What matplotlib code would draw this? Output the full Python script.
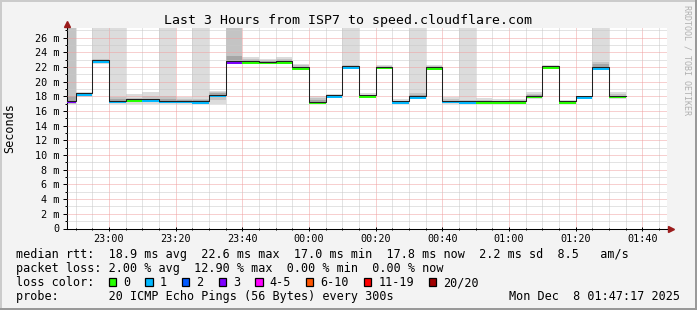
import numpy as np
import pandas as pd
import matplotlib
matplotlib.use("Agg")
import matplotlib.pyplot as plt
import matplotlib.dates as mdates
from matplotlib.patches import Rectangle
from matplotlib.lines import Line2D
from matplotlib.transforms import Affine2D

# ---------------- data ----------------
TITLE = "Last 3 Hours from ISP7 to speed.cloudflare.com"
TOP = 40.0  # pings above the visible range

step_start = pd.date_range("2025-12-07 22:45", periods=34, freq="5min")
median_ms = [17.2, 18.2, 22.68, 17.2, 17.4, 17.4, 17.2, 17.2, 17.1, 18.0,
             22.55, 22.55, 22.5, 22.6, 21.73, 17.06, 17.92, 21.87, 17.95, 21.82,
             17.15, 17.78, 21.73, 17.17, 17.15, 17.15, 17.15, 17.1, 17.87, 21.89,
             17.12, 17.78, 21.78, 17.87]
loss_pings = [3, 1, 1, 1, 0, 1, 1, 1, 1, 1,
              3, 0, 0, 0, 0, 0, 1, 1, 0, 0,
              1, 1, 0, 1, 1, 0, 0, 0, 0, 0,
              0, 1, 1, 0]
smoke_lo = [16.95, 17.9, 22.4, 17.0, 17.0, 17.0, 17.0, 17.0, 16.9, 16.9,
            22.4, 22.5, 22.4, 22.4, 21.6, 16.9, 17.8, 21.7, 17.8, 21.7,
            17.0, 17.6, 21.6, 17.0, 16.9, 16.9, 16.9, 17.0, 17.7, 21.8,
            17.0, 17.7, 21.7, 17.6]
smoke_hi = [TOP, 18.6, TOP, TOP, 18.3, 18.6, TOP, 17.9, TOP, 18.7,
            TOP, 23.3, 23.1, 23.3, 22.4, 18.1, 18.3, TOP, 18.4, 22.3,
            17.6, TOP, 22.3, 17.9, TOP, 17.8, 17.6, 17.7, 18.6, 22.2,
            17.5, 18.1, TOP, 18.6]
smoke_mid_lo = [16.95, 18.0, 22.5, 17.1, 17.2, 17.2, 17.1, 17.1, 17.0, 17.5,
                22.5, 22.6, 22.5, 22.6, 21.8, 17.1, 17.9, 21.8, 17.9, 21.8,
                17.1, 17.8, 21.7, 17.1, 17.0, 17.0, 17.0, 17.1, 17.9, 21.9,
                17.1, 17.8, 21.8, 17.8]
smoke_mid_hi = [TOP, 18.4, 23.1, 17.9, 17.8, 18.0, 18.0, 17.7, 17.7, 18.6,
                TOP, 23.1, 22.9, 23.1, 22.2, 17.8, 18.2, 22.2, 18.2, 22.1,
                17.4, 18.4, 22.1, 17.6, 17.5, 17.5, 17.4, 17.5, 18.3, 22.1,
                17.4, 18.0, 22.7, 18.3]
smoke_in_lo = [17.2, 18.1, 22.6, 17.2, 17.3, 17.3, 17.2, 17.2, 17.1, 17.9,
               22.6, 22.6, 22.5, 22.6, 21.8, 17.1, 17.9, 21.9, 17.95, 21.8,
               17.15, 17.8, 21.75, 17.15, 17.1, 17.1, 17.1, 17.1, 17.9, 21.9,
               17.1, 17.8, 21.8, 17.85]
smoke_in_hi = [18.0, 18.3, 23.0, 17.6, 17.6, 17.7, 17.6, 17.5, 17.5, 18.5,
               23.5, 22.9, 22.8, 22.9, 22.0, 17.5, 18.1, 22.1, 18.1, 22.0,
               17.3, 18.2, 22.0, 17.4, 17.4, 17.35, 17.3, 17.35, 18.2, 22.05,
               17.3, 17.95, 22.4, 18.1]

loss_labels = ["0", "1", "2", "3", "4-5", "6-10", "11-19", "20/20"]
loss_upper = [0, 1, 2, 3, 5, 10, 19, 20]
loss_colors = ["#26ff00", "#00b8ff", "#0059ff", "#7e00ff",
               "#ff00ff", "#ff5500", "#ff0000", "#a10000"]

y_ticks = [0, 2, 4, 6, 8, 10, 12, 14, 16, 18, 20, 22, 24, 26]
x_tick_times = pd.date_range("2025-12-07 23:00", periods=9, freq="20min")
x_tick_labels = ["23:00", "23:20", "23:40", "00:00", "00:20",
                 "00:40", "01:00", "01:20", "01:40"]
t_begin = pd.Timestamp("2025-12-07 22:47:17")
t_end = pd.Timestamp("2025-12-08 01:47:17")

legend_rows = [
    "median rtt:  18.9 ms avg  22.6 ms max  17.0 ms min  17.8 ms now  2.2 ms sd  8.5   am/s",
    "packet loss: 2.00 % avg  12.90 % max  0.00 % min  0.00 % now",
    "loss color:",
    "probe:       20 ICMP Echo Pings (56 Bytes) every 300s",
]
date_text = "Mon Dec  8 01:47:17 2025"

# ---------------- figure ----------------
W, H = 697, 310
MONO = "DejaVu Sans Mono"
fig = plt.figure(figsize=(W / 100, H / 100), dpi=100, facecolor="#f3f3f3")
PX = Affine2D().scale(1 / W, -1 / H).translate(0, 1) + fig.transFigure

L, R, T, B = 66.5, 666.5, 28.0, 228.5
ax = fig.add_axes([L / W, 1 - B / H, (R - L) / W, (B - T) / H])
ax.set_facecolor("white")

edges = mdates.date2num(list(step_start) + [step_start[-1] + pd.Timedelta("5min")])


def ext(v):
    return list(v) + [v[-1]]


for lo, hi, col in [(smoke_lo, smoke_hi, "#dcdcdc"),
                    (smoke_mid_lo, smoke_mid_hi, "#c4c4c4"),
                    (smoke_in_lo, smoke_in_hi, "#a6a6a6")]:
    ax.fill_between(edges, ext(lo), ext(hi), step="post", color=col, lw=0, zorder=1)


def loss_color(n):
    for up, c in zip(loss_upper, loss_colors):
        if n <= up:
            return c
    return loss_colors[-1]


med = np.array(median_ms)
for i in range(len(med)):
    ax.fill_between(edges[i:i + 2], [med[i] - 0.14] * 2, [med[i] + 0.14] * 2,
                    color=loss_color(loss_pings[i]), lw=0, zorder=3)
ax.step(edges, ext(list(med + 0.2)), where="post", color="#202020", lw=0.75, zorder=3.5)

ax.set_xlim(mdates.date2num(t_begin), mdates.date2num(t_end))
ax.set_ylim(0, 27.3)

# grid
ax.set_axisbelow(False)
ax.set_yticks(y_ticks)
ax.set_yticks([v + 1 for v in y_ticks], minor=True)
ax.set_yticklabels([f"{v} m" if v else "0" for v in y_ticks], family=MONO, fontsize=7.3)
xt = mdates.date2num(x_tick_times)
ax.set_xticks(xt)
ax.set_xticklabels(x_tick_labels, family=MONO, fontsize=7.3)
five = mdates.date2num(pd.date_range("2025-12-07 22:50", "2025-12-08 01:45", freq="5min"))
ax.set_xticks([v for v in five if np.min(np.abs(xt - v)) > 1e-6], minor=True)
dot = (0, (1, 1))
ax.grid(which="major", color="#f0a0a0", ls=dot, lw=0.72)
ax.grid(which="minor", color="#c8c8c8", ls=dot, lw=0.72)
ax.tick_params(axis="y", which="major", direction="out", length=3, width=0.72, pad=1.8)
ax.tick_params(axis="y", which="minor", direction="out", length=1.5, width=0.72)
ax.tick_params(axis="x", which="major", direction="inout", length=3, width=0.72, pad=2.5)
ax.tick_params(axis="x", which="minor", direction="inout", length=2, width=0.72)

for s in ["top", "right"]:
    ax.spines[s].set_visible(False)
for s in ["left", "bottom"]:
    ax.spines[s].set_linewidth(0.75)
    ax.spines[s].set_color("black")

# axis arrows
arrow_c = "#9b1c1c"
fig.add_artist(Line2D([R, R + 2], [B, B], transform=PX, color="black", lw=0.75))
fig.add_artist(Line2D([R + 4.5], [B], transform=PX, marker=">", ms=4.5, color=arrow_c, mec=arrow_c))
fig.add_artist(Line2D([L, L], [T, T - 2], transform=PX, color="black", lw=0.75))
fig.add_artist(Line2D([L], [T - 4], transform=PX, marker="^", ms=4.5, color=arrow_c, mec=arrow_c))

# texts
fig.text(348.5, 24, TITLE, transform=PX, family=MONO, fontsize=9.5, ha="center", va="baseline")
fig.text(10, 128, "Seconds", transform=PX, family=MONO, fontsize=8.5, rotation=90,
         ha="center", va="center")
fig.text(687, 60, "RRDTOOL / TOBI OETIKER", transform=PX, family=MONO, fontsize=6,
         rotation=270, ha="center", va="center", color="#b0b0b0")

baselines = [258.3, 272.3, 286.3, 300.3]
for txt, yb in zip(legend_rows, baselines):
    fig.text(16, yb, txt, transform=PX, family=MONO, fontsize=8.5, ha="left", va="baseline")
fig.text(680, baselines[3], date_text, transform=PX, family=MONO, fontsize=8.5,
         ha="right", va="baseline")

pitch = 8.5 * 100 / 72 * 0.602
bx = 108.7
for lab, col in zip(loss_labels, loss_colors):
    fig.add_artist(Rectangle((bx, 278.3), 7.5, 8, transform=PX, facecolor=col,
                             edgecolor="black", lw=0.9))
    fig.text(bx + 14.7, baselines[2], lab, transform=PX, family=MONO, fontsize=8.5,
             ha="left", va="baseline")
    bx = bx + 14.7 + len(lab) * pitch + 14.8

# frame
fig.add_artist(Rectangle((0, 0), W, 2, transform=PX, color="#cbcbcb", lw=0))
fig.add_artist(Rectangle((0, 0), 2, H, transform=PX, color="#cbcbcb", lw=0))
fig.add_artist(Rectangle((0, H - 2), W, 2, transform=PX, color="#999999", lw=0))
fig.add_artist(Rectangle((W - 2, 0), 2, H, transform=PX, color="#999999", lw=0))

fig.savefig("out.png", dpi=100, facecolor=fig.get_facecolor())
